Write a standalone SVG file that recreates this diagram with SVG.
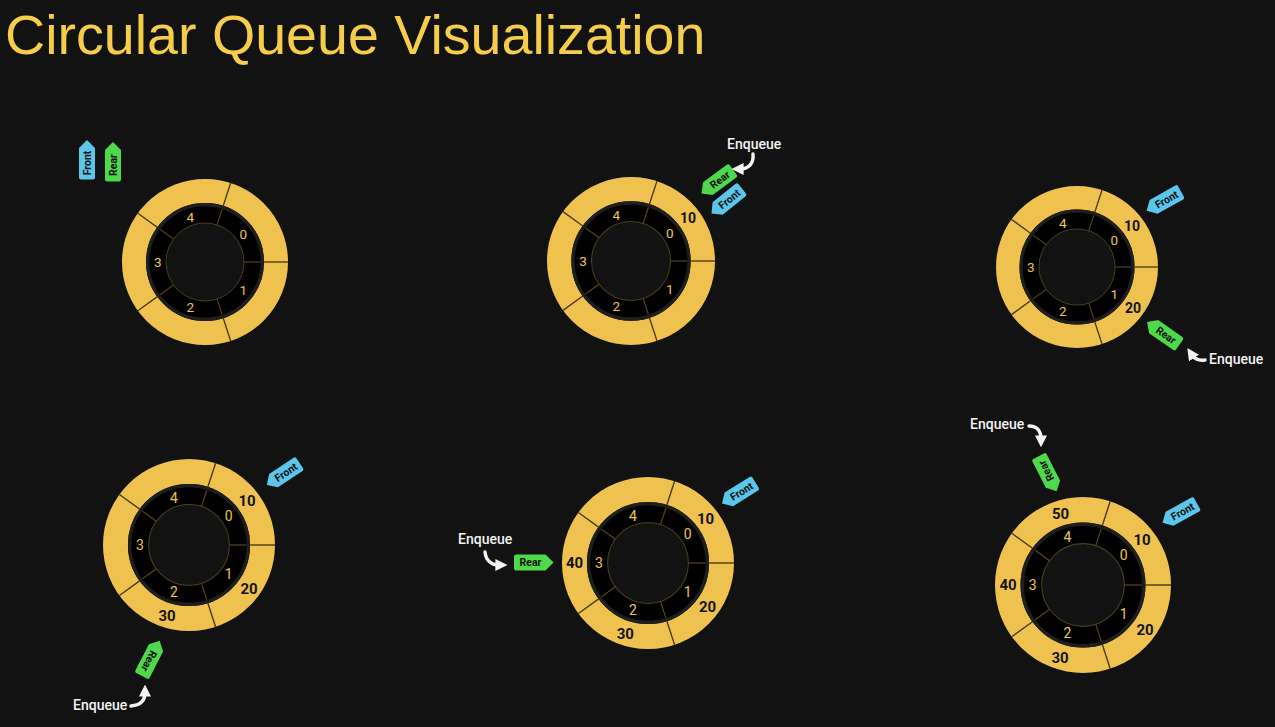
<svg xmlns="http://www.w3.org/2000/svg" xmlns:xlink="http://www.w3.org/1999/xlink" width="1275" height="727" viewBox="0 0 1275 727">
  <style>
    .title { font-family: "Liberation Sans", Arial, sans-serif; font-size: 55.6px; fill: #F4CD4A; }
    .idx { font-family: Roboto, "Liberation Sans", sans-serif; font-size: 13.5px; fill: #EEC64C; text-anchor: middle; }
    .val { font-family: Roboto, "Liberation Sans", sans-serif; font-size: 14px; font-weight: 700; fill: #141414; text-anchor: middle; }
    .big .idx { font-size: 14px; }
    .big .val { font-size: 15px; }
    .tagtxt { font-family: Roboto, "Liberation Sans", sans-serif; font-size: 10.5px; font-weight: 700; fill: #111; text-anchor: middle; }
    .front { fill: #5BC5EA; }
    .rear { fill: #4FD84C; }
    .enq { font-family: Roboto, "Liberation Sans", sans-serif; font-size: 14px; font-weight: 500; fill: #F2F2F2; }
    .arrow { fill: none; stroke: #F2F2F2; stroke-width: 3.4; stroke-linecap: round; marker-end: url(#head); }
  </style>
  <defs>
    <!-- one five-slot ring drawn at radius 100, scaled per state -->
    <g id="ring">
      <circle r="85.5" fill="none" stroke="#EFC24F" stroke-width="29"/>
      <circle r="69" fill="none" stroke="#1E1E1E" stroke-width="4"/>
      <circle r="57" fill="none" stroke="#000" stroke-width="20"/>
      <circle r="47" fill="#121212" stroke="#4A3F1C" stroke-width="1.2"/>
      <g stroke="#4A3A12" stroke-width="1.6">
        <line x1="71" y1="0" x2="100" y2="0"/>
        <line x1="21.9" y1="-67.5" x2="30.9" y2="-95.1"/>
        <line x1="-57.4" y1="-41.7" x2="-80.9" y2="-58.8"/>
        <line x1="-57.4" y1="41.7" x2="-80.9" y2="58.8"/>
        <line x1="21.9" y1="67.5" x2="30.9" y2="95.1"/>
      </g>
      <g stroke="#5A4A1C" stroke-width="1.3">
        <line x1="47" y1="0" x2="67" y2="0"/>
        <line x1="14.5" y1="-44.7" x2="20.7" y2="-63.7"/>
        <line x1="-38" y1="-27.6" x2="-54.2" y2="-39.4"/>
        <line x1="-38" y1="27.6" x2="-54.2" y2="39.4"/>
        <line x1="14.5" y1="44.7" x2="20.7" y2="63.7"/>
      </g>
    </g>
    <!-- pointer tag, tip toward +x -->
    <path id="tag" d="M -17.5 -8 H 12 L 20 0 L 12 8 H -17.5 Q -19.5 8 -19.5 6 V -6 Q -19.5 -8 -17.5 -8 Z"/>
    <marker id="head" markerUnits="userSpaceOnUse" markerWidth="12" markerHeight="12" viewBox="0 0 10 10" refX="3" refY="5" orient="auto">
      <path d="M0,0 L10,5 L0,10 Z" fill="#F2F2F2"/>
    </marker>
  </defs>

  <rect width="1275" height="727" fill="#121212"/>
  <text class="title" x="5" y="54">Circular Queue Visualization</text>

  <!-- empty queue -->
  <g id="state-empty">
    <use href="#ring" transform="translate(205,262) scale(0.83)"/>
    <text class="idx" x="243.3" y="234.2" dy=".35em">0</text>
    <text class="idx" x="243.3" y="289.8" dy=".35em">1</text>
    <text class="idx" x="190.4" y="307" dy=".35em">2</text>
    <text class="idx" x="157.7" y="262" dy=".35em">3</text>
    <text class="idx" x="190.4" y="217" dy=".35em">4</text>
    <g transform="translate(87,160) rotate(-90)">
      <use href="#tag" class="front"/>
      <text class="tagtxt" x="-3" dy=".35em">Front</text>
    </g>
    <g transform="translate(113,162) rotate(-90)">
      <use href="#tag" class="rear"/>
      <text class="tagtxt" x="-3" dy=".35em">Rear</text>
    </g>
  </g>

  <!-- after enqueue 10 -->
  <g id="state-10">
    <use href="#ring" transform="translate(631,261) scale(0.84)"/>
    <text class="idx" x="669.7" y="232.8" dy=".35em">0</text>
    <text class="idx" x="669.7" y="289.2" dy=".35em">1</text>
    <text class="idx" x="616.2" y="306.6" dy=".35em">2</text>
    <text class="idx" x="583.1" y="261" dy=".35em">3</text>
    <text class="idx" x="616.2" y="215.4" dy=".35em">4</text>
    <text class="val" x="688" y="218.5" dy=".35em">10</text>
    <g transform="translate(717.5,181.5) rotate(143.4)">
      <use href="#tag" class="rear"/>
      <text class="tagtxt" transform="rotate(180)" x="3" dy=".35em">Rear</text>
    </g>
    <g transform="translate(727,201) rotate(141)">
      <use href="#tag" class="front"/>
      <text class="tagtxt" transform="rotate(180)" x="3" dy=".35em">Front</text>
    </g>
    <text class="enq" x="727" y="149">Enqueue</text>
  </g>

  <!-- after enqueue 20 -->
  <g id="state-20">
    <use href="#ring" transform="translate(1077,267) scale(0.81)"/>
    <text class="idx" x="1114.4" y="239.8" dy=".35em">0</text>
    <text class="idx" x="1114.4" y="294.2" dy=".35em">1</text>
    <text class="idx" x="1062.7" y="310.9" dy=".35em">2</text>
    <text class="idx" x="1030.8" y="267" dy=".35em">3</text>
    <text class="idx" x="1062.7" y="223.1" dy=".35em">4</text>
    <text class="val" x="1132" y="226" dy=".35em">10</text>
    <text class="val" x="1133" y="308" dy=".35em">20</text>
    <g transform="translate(1164,201) rotate(150.6)">
      <use href="#tag" class="front"/>
      <text class="tagtxt" transform="rotate(180)" x="3" dy=".35em">Front</text>
    </g>
    <g transform="translate(1163.5,333.5) rotate(214.9)">
      <use href="#tag" class="rear"/>
      <text class="tagtxt" transform="rotate(180)" x="3" dy=".35em">Rear</text>
    </g>
    <text class="enq" x="1209" y="364">Enqueue</text>
  </g>

  <!-- after enqueue 30 -->
  <g id="state-30" class="big">
    <use href="#ring" transform="translate(189,545) scale(0.86)"/>
    <text class="idx" x="228.6" y="516.2" dy=".35em">0</text>
    <text class="idx" x="228.6" y="573.8" dy=".35em">1</text>
    <text class="idx" x="173.9" y="591.6" dy=".35em">2</text>
    <text class="idx" x="140" y="545" dy=".35em">3</text>
    <text class="idx" x="173.9" y="498.4" dy=".35em">4</text>
    <text class="val" x="247" y="501" dy=".35em">10</text>
    <text class="val" x="249" y="588.5" dy=".35em">20</text>
    <text class="val" x="167" y="616" dy=".35em">30</text>
    <g transform="translate(283.5,474) rotate(146.3)">
      <use href="#tag" class="front"/>
      <text class="tagtxt" transform="rotate(180)" x="3" dy=".35em">Front</text>
    </g>
    <g transform="translate(150.5,658.5) rotate(-62.8)">
      <use href="#tag" class="rear"/>
      <text class="tagtxt" transform="rotate(180)" x="3" dy=".35em">Rear</text>
    </g>
    <text class="enq" x="73" y="710">Enqueue</text>
  </g>

  <!-- after enqueue 40 -->
  <g id="state-40" class="big">
    <use href="#ring" transform="translate(648,563) scale(0.86)"/>
    <text class="idx" x="687.6" y="534.2" dy=".35em">0</text>
    <text class="idx" x="687.6" y="591.8" dy=".35em">1</text>
    <text class="idx" x="632.9" y="609.6" dy=".35em">2</text>
    <text class="idx" x="599" y="563" dy=".35em">3</text>
    <text class="idx" x="632.9" y="516.4" dy=".35em">4</text>
    <text class="val" x="705.5" y="519" dy=".35em">10</text>
    <text class="val" x="707.5" y="606.5" dy=".35em">20</text>
    <text class="val" x="625.3" y="634" dy=".35em">30</text>
    <text class="val" x="574.5" y="563" dy=".35em">40</text>
    <g transform="translate(739,493) rotate(148)">
      <use href="#tag" class="front"/>
      <text class="tagtxt" transform="rotate(180)" x="3" dy=".35em">Front</text>
    </g>
    <g transform="translate(533.5,562.5)">
      <use href="#tag" class="rear"/>
      <text class="tagtxt" x="-3" dy=".35em">Rear</text>
    </g>
    <text class="enq" x="458" y="544">Enqueue</text>
  </g>

  <!-- after enqueue 50: queue full -->
  <g id="state-50" class="big">
    <use href="#ring" transform="translate(1083,585) scale(0.88)"/>
    <text class="idx" x="1123.6" y="555.5" dy=".35em">0</text>
    <text class="idx" x="1123.6" y="614.5" dy=".35em">1</text>
    <text class="idx" x="1067.5" y="632.7" dy=".35em">2</text>
    <text class="idx" x="1032.8" y="585" dy=".35em">3</text>
    <text class="idx" x="1067.5" y="537.3" dy=".35em">4</text>
    <text class="val" x="1142" y="540" dy=".35em">10</text>
    <text class="val" x="1145" y="630" dy=".35em">20</text>
    <text class="val" x="1060" y="658" dy=".35em">30</text>
    <text class="val" x="1008" y="585" dy=".35em">40</text>
    <text class="val" x="1060.5" y="513.5" dy=".35em">50</text>
    <g transform="translate(1180,513) rotate(151)">
      <use href="#tag" class="front"/>
      <text class="tagtxt" transform="rotate(180)" x="3" dy=".35em">Front</text>
    </g>
    <g transform="translate(1047.5,473.5) rotate(62.8)">
      <use href="#tag" class="rear"/>
      <text class="tagtxt" transform="rotate(180)" x="3" dy=".35em">Rear</text>
    </g>
    <text class="enq" x="970" y="429">Enqueue</text>
  </g>

  <!-- curved enqueue arrows -->
  <g id="connectors">
    <path class="arrow" d="M 753 154 C 754 164, 748 169, 740 169"/>
    <path class="arrow" d="M 1205 360 C 1198 361, 1194 358, 1192 355"/>
    <path class="arrow" d="M 131 706 C 141 705, 145 700, 145 693"/>
    <path class="arrow" d="M 485 552 C 486 561, 492 565, 499 565"/>
    <path class="arrow" d="M 1029 426 C 1037 426, 1041 431, 1041 439"/>
  </g>
</svg>
